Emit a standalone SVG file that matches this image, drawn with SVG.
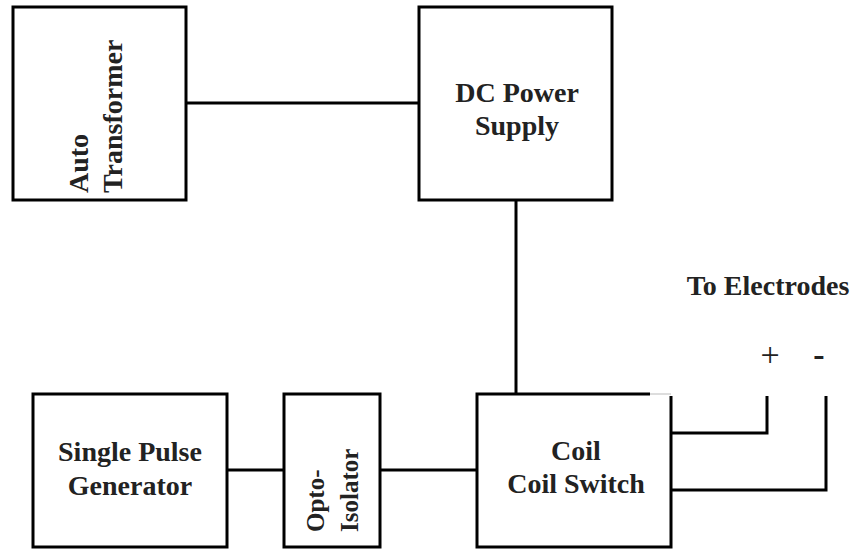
<svg xmlns="http://www.w3.org/2000/svg" width="859" height="549" viewBox="0 0 859 549">
<style>
.box{fill:#fff;stroke:#000;stroke-width:3}
.ln{fill:none;stroke:#000;stroke-width:3}
.t{font-family:"Liberation Serif","Times New Roman",serif;font-weight:bold;font-size:28px;fill:#222}
.o{font-family:"Liberation Serif","Times New Roman",serif;font-weight:bold;font-size:25px;fill:#222}
.s{font-family:"Liberation Serif","Times New Roman",serif;font-size:34px;fill:#222}
.d{font-family:"Liberation Serif","Times New Roman",serif;font-weight:bold;font-size:34px;fill:#222}
</style>
<rect width="859" height="549" fill="#fff"/>
<g id="connectors">
<line class="ln" x1="186" y1="103" x2="419" y2="103"/>
<line class="ln" x1="516" y1="200" x2="516" y2="394"/>
<line class="ln" x1="227" y1="470" x2="284" y2="470"/>
<line class="ln" x1="380" y1="470" x2="477" y2="470"/>
<polyline class="ln" points="671,433 767,433 767,396"/>
<polyline class="ln" points="671,490 826,490 826,396"/>
</g>
<g id="auto-transformer">
<rect class="box" x="13" y="7" width="173" height="193"/>
<text class="t" transform="translate(88,193) rotate(-90)">Auto</text>
<text class="t" transform="translate(122,193) rotate(-90)">Transformer</text>
</g>
<g id="dc-power-supply">
<rect class="box" x="419" y="7" width="193" height="193"/>
<text class="t" x="517" y="102" text-anchor="middle">DC Power</text>
<text class="t" x="517" y="135" text-anchor="middle">Supply</text>
</g>
<g id="single-pulse-generator">
<rect class="box" x="33" y="394" width="194" height="153"/>
<text class="t" x="130" y="461" text-anchor="middle">Single Pulse</text>
<text class="t" x="130" y="495" text-anchor="middle">Generator</text>
</g>
<g id="opto-isolator">
<rect class="box" x="284" y="394" width="96" height="153"/>
<text class="o" transform="translate(324,532) rotate(-90)">Opto-</text>
<text class="o" transform="translate(358,532) rotate(-90)">Isolator</text>
</g>
<g id="coil-switch">
<path class="ln" d="M650,394 H477 V547 H671 V396"/>
<line x1="650" y1="394" x2="671" y2="394" stroke="#bbb" stroke-width="1"/>
<text class="t" x="576" y="460" text-anchor="middle">Coil</text>
<text class="t" x="576" y="493" text-anchor="middle">Coil Switch</text>
</g>
<g id="electrodes">
<text class="t" x="768" y="295" text-anchor="middle">To Electrodes</text>
<text class="s" x="770" y="366" text-anchor="middle">+</text>
<text class="d" x="819" y="366" text-anchor="middle">-</text>
</g>
</svg>
